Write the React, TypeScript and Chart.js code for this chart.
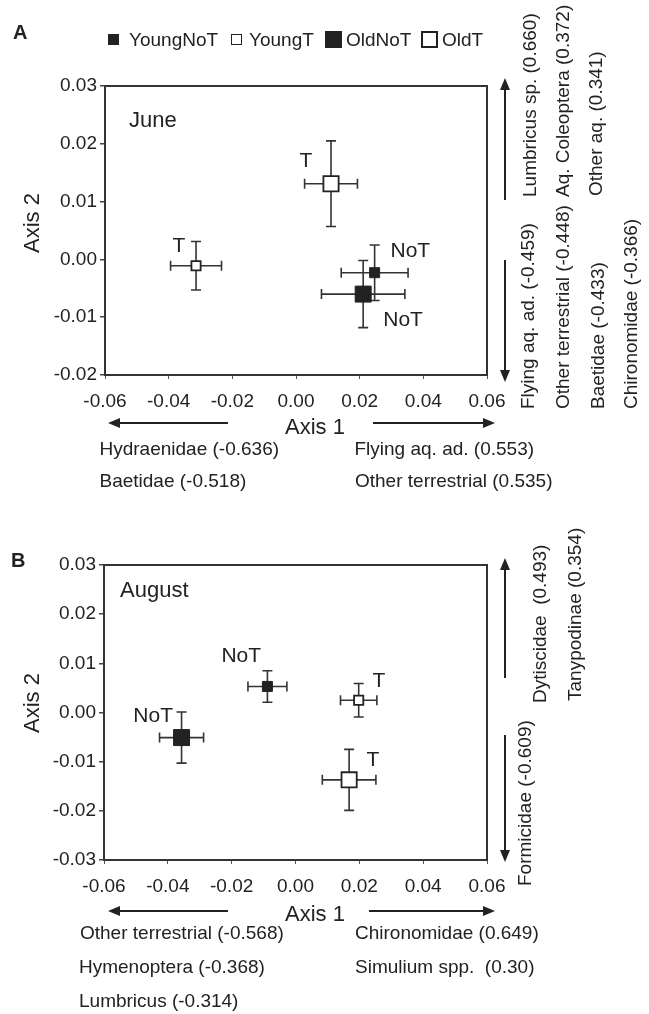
import React, { useEffect, useRef } from "react";
import { Chart, registerables } from "chart.js";
Chart.register(...registerables);

const FONT = "'Liberation Sans', Arial, Helvetica, sans-serif";
const INK = "#222";

// ---- data ----
const groupNames = ["YoungNoT", "YoungT", "OldNoT", "OldT"];
const groupFilled = [true, false, true, false];
const groupLarge = [false, false, true, true];
const groupTags = ["NoT", "T", "NoT", "T"];

const xTickValues = [-0.06, -0.04, -0.02, 0, 0.02, 0.04, 0.06];
const juneYTickValues = [-0.02, -0.01, 0, 0.01, 0.02, 0.03];
const augYTickValues = [-0.03, -0.02, -0.01, 0, 0.01, 0.02, 0.03];

const juneX = [0.0247, -0.0314, 0.0211, 0.011];
const juneY = [-0.0023, -0.0011, -0.006, 0.0131];
const juneXErr = [0.0105, 0.008, 0.0131, 0.0083];
const juneYErr = [0.0048, 0.0042, 0.0058, 0.0074];

const augX = [-0.0088, 0.0198, -0.0357, 0.0168];
const augY = [0.0053, 0.0025, -0.0051, -0.0137];
const augXErr = [0.0061, 0.0057, 0.0069, 0.0084];
const augYErr = [0.0032, 0.0034, 0.0052, 0.0062];

const juneAxis1Neg = ["Hydraenidae (-0.636)", "Baetidae (-0.518)"];
const juneAxis1Pos = ["Flying aq. ad. (0.553)", "Other terrestrial (0.535)"];
const juneAxis2Pos = ["Lumbricus sp. (0.660)", "Aq. Coleoptera (0.372)", "Other aq. (0.341)"];
const juneAxis2Neg = ["Flying aq. ad. (-0.459)", "Other terrestrial (-0.448)", "Baetidae (-0.433)", "Chironomidae (-0.366)"];

const augAxis1Neg = ["Other terrestrial (-0.568)", "Hymenoptera (-0.368)", "Lumbricus (-0.314)"];
const augAxis1Pos = ["Chironomidae (0.649)", "Simulium spp.  (0.30)"];
const augAxis2Pos = ["Dytiscidae  (0.493)", "Tanypodinae (0.354)"];
const augAxis2Neg = ["Formicidae (-0.609)"];

// ---- layout (pixels) ----
const juneLayout = {
  canvasTop: 0, canvasHeight: 500, padTop: 86, yAxisWidth: 105, xAxisHeight: 125,
  title: "June", titleDx: 24, titleDy: 40.7,
  tagOffsets: [[15.9, -15.8], [-23.5, -14.1], [20.1, 31.9], [-31.5, -16.4]],
  arrows: [[505, 200, 505, 78], [505, 260, 505, 382], [228, 423, 108, 423], [373, 423, 495, 423]],
};
const augLayout = {
  canvasTop: 500, canvasHeight: 514, padTop: 65, yAxisWidth: 104, xAxisHeight: 154,
  title: "August", titleDx: 16, titleDy: 31.7,
  tagOffsets: [[-46, -24.7], [13.8, -12.9], [-48.2, -15.9], [17.4, -13.9]],
  arrows: [[505, 678, 505, 558], [505, 735, 505, 862], [228, 911, 108, 911], [369, 911, 495, 911]],
};

function drawArrow(ctx: CanvasRenderingContext2D, x1: number, y1: number, x2: number, y2: number) {
  const a = Math.atan2(y2 - y1, x2 - x1);
  const hl = 12, hw = 5;
  const c = Math.cos(a), s = Math.sin(a);
  ctx.beginPath();
  ctx.moveTo(x1, y1);
  ctx.lineTo(x2 - c * hl * 0.8, y2 - s * hl * 0.8);
  ctx.stroke();
  ctx.beginPath();
  ctx.moveTo(x2, y2);
  ctx.lineTo(x2 - c * hl - s * hw, y2 - s * hl + c * hw);
  ctx.lineTo(x2 - c * hl + s * hw, y2 - s * hl - c * hw);
  ctx.closePath();
  ctx.fill();
}

function makeConfig(xs: number[], ys: number[], xe: number[], ye: number[], yTicks: number[], layout: any): any {
  const datasets = groupNames.map((name, i) => {
    const filled = groupFilled[i];
    const large = groupLarge[i];
    const bw = filled ? 1 : 1.8;
    const r = large ? (filled ? 11.3 : 10.75) : (filled ? 7.07 : 6.5);
    return {
      label: name,
      data: [{ x: xs[i], y: ys[i] }],
      xErr: [xe[i]],
      yErr: [ye[i]],
      tag: groupTags[i],
      pointStyle: "rect",
      pointRadius: r,
      pointHoverRadius: r,
      pointBorderWidth: bw,
      pointBackgroundColor: filled ? INK : "#ffffff",
      pointBorderColor: INK,
      backgroundColor: filled ? INK : "#ffffff",
      borderColor: INK,
      showLine: false,
    };
  });

  const plugin = {
    id: "panelDecor",
    beforeDatasetsDraw(chart: any) {
      const ctx = chart.ctx;
      const xs_ = chart.scales.x, ys_ = chart.scales.y;
      ctx.save();
      ctx.strokeStyle = "#333";
      ctx.lineWidth = 1.6;
      chart.data.datasets.forEach((ds: any) => {
        ds.data.forEach((p: any, j: number) => {
          const px = xs_.getPixelForValue(p.x);
          const py = ys_.getPixelForValue(p.y);
          const x0 = xs_.getPixelForValue(p.x - ds.xErr[j]);
          const x1 = xs_.getPixelForValue(p.x + ds.xErr[j]);
          const y0 = ys_.getPixelForValue(p.y - ds.yErr[j]);
          const y1 = ys_.getPixelForValue(p.y + ds.yErr[j]);
          const cap = 5;
          ctx.beginPath();
          ctx.moveTo(x0, py); ctx.lineTo(x1, py);
          ctx.moveTo(x0, py - cap); ctx.lineTo(x0, py + cap);
          ctx.moveTo(x1, py - cap); ctx.lineTo(x1, py + cap);
          ctx.moveTo(px, y0); ctx.lineTo(px, y1);
          ctx.moveTo(px - cap, y0); ctx.lineTo(px + cap, y0);
          ctx.moveTo(px - cap, y1); ctx.lineTo(px + cap, y1);
          ctx.stroke();
        });
      });
      ctx.restore();
    },
    afterDraw(chart: any) {
      const ctx = chart.ctx;
      const a = chart.chartArea;
      const xs_ = chart.scales.x, ys_ = chart.scales.y;
      ctx.save();
      // frame
      ctx.strokeStyle = "#333";
      ctx.lineWidth = 2;
      ctx.strokeRect(a.left, a.top, a.right - a.left, a.bottom - a.top);
      // arrows
      ctx.strokeStyle = INK;
      ctx.fillStyle = INK;
      ctx.lineWidth = 2;
      layout.arrows.forEach((ar: number[]) => {
        drawArrow(ctx, ar[0], ar[1] - layout.canvasTop, ar[2], ar[3] - layout.canvasTop);
      });
      // panel title
      ctx.fillStyle = INK;
      ctx.textBaseline = "alphabetic";
      ctx.textAlign = "left";
      ctx.font = `22px ${FONT}`;
      ctx.fillText(layout.title, a.left + layout.titleDx, a.top + layout.titleDy);
      // group tags
      ctx.font = `21px ${FONT}`;
      chart.data.datasets.forEach((ds: any, i: number) => {
        const p = ds.data[0];
        const px = xs_.getPixelForValue(p.x);
        const py = ys_.getPixelForValue(p.y);
        const off = layout.tagOffsets[i];
        ctx.fillText(ds.tag, px + off[0], py + off[1]);
      });
      ctx.restore();
    },
  };

  const tickFont = { family: FONT, size: 19 };
  return {
    type: "scatter",
    data: { datasets },
    options: {
      animation: false,
      responsive: false,
      maintainAspectRatio: false,
      events: [],
      layout: { padding: { top: layout.padTop, right: 162, left: 0, bottom: 0 } },
      plugins: { legend: { display: false }, tooltip: { enabled: false }, title: { display: false } },
      scales: {
        x: {
          type: "linear",
          min: -0.06,
          max: 0.06,
          afterBuildTicks: (s: any) => { s.ticks = xTickValues.map((v) => ({ value: v })); },
          afterFit: (s: any) => { s.height = layout.xAxisHeight; },
          ticks: {
            callback: (v: any) => Number(v).toFixed(2),
            font: tickFont, color: INK, padding: 11.6, maxRotation: 0, minRotation: 0, autoSkip: false,
          },
          grid: { drawOnChartArea: false, drawTicks: true, tickLength: 4, color: "#555", lineWidth: 1 },
          border: { display: false },
          title: { display: false },
        },
        y: {
          type: "linear",
          min: yTicks[0],
          max: yTicks[yTicks.length - 1],
          afterBuildTicks: (s: any) => { s.ticks = yTicks.map((v) => ({ value: v })); },
          afterFit: (s: any) => { s.width = layout.yAxisWidth; },
          ticks: { callback: (v: any) => Number(v).toFixed(2), font: tickFont, color: INK, padding: 3, autoSkip: false },
          grid: { drawOnChartArea: false, drawTicks: true, tickLength: 5, color: "#444", lineWidth: 1.5 },
          border: { display: false },
          title: { display: false },
        },
      },
    },
    plugins: [plugin],
  };
}

const abs: React.CSSProperties = { position: "absolute", whiteSpace: "pre" };

function HText({ x, y, text, size = 19, bold = false }: { x: number; y: number; text: string; size?: number; bold?: boolean }) {
  return (
    <div style={{ ...abs, left: x, top: y, fontSize: size, lineHeight: `${size}px`, fontWeight: bold ? "bold" : "normal" }}>{text}</div>
  );
}

function VText({ x, y, text }: { x: number; y: number; text: string }) {
  return (
    <div style={{ ...abs, left: x, top: y, fontSize: 19, lineHeight: "19px", transformOrigin: "0 0", transform: "rotate(-90deg)" }}>{text}</div>
  );
}

function AxisTitleH({ cx, top }: { cx: number; top: number }) {
  return <div style={{ ...abs, left: cx, top, fontSize: 22, lineHeight: "22px", transform: "translateX(-50%)" }}>Axis 1</div>;
}

function AxisTitleV({ cx, cy }: { cx: number; cy: number }) {
  return (
    <div style={{ ...abs, left: cx, top: cy, fontSize: 22, lineHeight: "22px", transform: "translate(-50%, -50%) rotate(-90deg)" }}>Axis 2</div>
  );
}

function LegendBox({ x, y, size, filled, border }: { x: number; y: number; size: number; filled: boolean; border: number }) {
  return (
    <div
      style={{
        position: "absolute", left: x, top: y, width: size, height: size, boxSizing: "border-box",
        background: filled ? INK : "#fff", border: `${border}px solid ${INK}`,
      }}
    />
  );
}

export default function App() {
  const topRef = useRef<HTMLCanvasElement>(null);
  const botRef = useRef<HTMLCanvasElement>(null);

  useEffect(() => {
    const c1 = new Chart(topRef.current as HTMLCanvasElement, makeConfig(juneX, juneY, juneXErr, juneYErr, juneYTickValues, juneLayout));
    const c2 = new Chart(botRef.current as HTMLCanvasElement, makeConfig(augX, augY, augXErr, augYErr, augYTickValues, augLayout));
    return () => { c1.destroy(); c2.destroy(); };
  }, []);

  return (
    <div style={{ position: "absolute", left: 0, top: 0, width: 649, height: 1014, background: "#fff", overflow: "hidden", fontFamily: FONT, color: INK }}>
      <canvas ref={topRef} width={649} height={500} style={{ position: "absolute", left: 0, top: 0, width: 649, height: 500 }} />
      <canvas ref={botRef} width={649} height={514} style={{ position: "absolute", left: 0, top: 500, width: 649, height: 514 }} />

      {/* panel letters */}
      <HText x={13} y={21.7} text="A" size={20} bold />
      <HText x={11} y={549.7} text="B" size={20} bold />

      {/* legend */}
      <LegendBox x={108} y={34} size={11} filled border={1} />
      <HText x={129} y={29.7} text={groupNames[0]} />
      <LegendBox x={231} y={34} size={11} filled={false} border={1.5} />
      <HText x={249} y={29.7} text={groupNames[1]} />
      <LegendBox x={325} y={31} size={17} filled border={1} />
      <HText x={346} y={29.7} text={groupNames[2]} />
      <LegendBox x={421} y={31} size={17} filled={false} border={2} />
      <HText x={442} y={29.7} text={groupNames[3]} />

      {/* June axis titles */}
      <AxisTitleV cx={31.7} cy={222.5} />
      <AxisTitleH cx={315} top={416.3} />
      {/* June axis 1 loadings */}
      <HText x={99.5} y={439.2} text={juneAxis1Neg[0]} />
      <HText x={99.5} y={470.7} text={juneAxis1Neg[1]} />
      <HText x={354.5} y={439.2} text={juneAxis1Pos[0]} />
      <HText x={355} y={470.7} text={juneAxis1Pos[1]} />
      {/* June axis 2 loadings */}
      <VText x={519.5} y={197} text={juneAxis2Pos[0]} />
      <VText x={552.5} y={197} text={juneAxis2Pos[1]} />
      <VText x={585.5} y={196} text={juneAxis2Pos[2]} />
      <VText x={517.5} y={409} text={juneAxis2Neg[0]} />
      <VText x={552.5} y={409} text={juneAxis2Neg[1]} />
      <VText x={587.5} y={409} text={juneAxis2Neg[2]} />
      <VText x={620.5} y={409} text={juneAxis2Neg[3]} />

      {/* August axis titles */}
      <AxisTitleV cx={31.7} cy={702.5} />
      <AxisTitleH cx={315} top={902.8} />
      {/* August axis 1 loadings */}
      <HText x={80} y={922.7} text={augAxis1Neg[0]} />
      <HText x={79} y={956.7} text={augAxis1Neg[1]} />
      <HText x={79} y={990.7} text={augAxis1Neg[2]} />
      <HText x={355} y={922.7} text={augAxis1Pos[0]} />
      <HText x={355} y={956.7} text={augAxis1Pos[1]} />
      {/* August axis 2 loadings */}
      <VText x={529.5} y={703} text={augAxis2Pos[0]} />
      <VText x={564.5} y={701} text={augAxis2Pos[1]} />
      <VText x={514.5} y={886} text={augAxis2Neg[0]} />
    </div>
  );
}
